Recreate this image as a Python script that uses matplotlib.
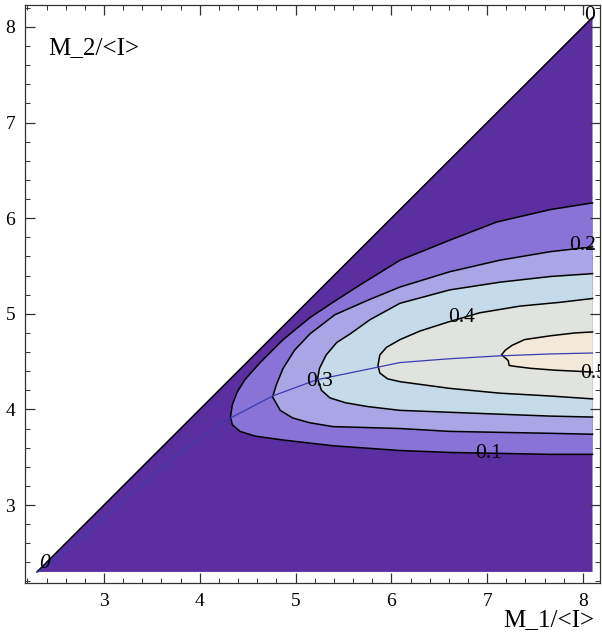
import matplotlib.pyplot as plt
from matplotlib.ticker import MultipleLocator

plt.rcParams['font.family'] = ['Liberation Serif', 'DejaVu Serif']

# region of the plot: M2 < M1, 2.3 .. 8.1
m_lo = 2.3
m_hi = 8.1

# contour lines, (M1, M2), from the upper right edge round the tip to the lower right edge
c01 = [(8.1, 6.16), (7.66, 6.09), (7.10, 5.96), (6.61, 5.77), (6.09, 5.56), (5.67, 5.30),
       (5.39, 5.12), (5.15, 4.96), (4.87, 4.73), (4.63, 4.49), (4.47, 4.31), (4.39, 4.18),
       (4.34, 4.05), (4.32, 3.92), (4.34, 3.84), (4.42, 3.77), (4.58, 3.72), (4.87, 3.68),
       (5.39, 3.62), (6.09, 3.57), (6.61, 3.55), (7.13, 3.54), (7.66, 3.53), (8.1, 3.53)]
c02 = [(8.1, 5.70), (7.66, 5.65), (7.13, 5.56), (6.61, 5.44), (6.09, 5.28), (5.75, 5.14),
       (5.41, 4.99), (5.15, 4.79), (4.99, 4.62), (4.87, 4.43), (4.80, 4.26), (4.76, 4.13),
       (4.84, 3.99), (4.97, 3.91), (5.15, 3.86), (5.39, 3.82), (5.75, 3.81), (6.09, 3.80),
       (6.61, 3.77), (7.13, 3.76), (7.66, 3.75), (8.1, 3.74)]
c03 = [(8.1, 5.42), (7.66, 5.39), (7.13, 5.33), (6.61, 5.25), (6.09, 5.11), (5.78, 4.94),
       (5.57, 4.79), (5.43, 4.70), (5.32, 4.57), (5.25, 4.43), (5.23, 4.32), (5.27, 4.20),
       (5.36, 4.12), (5.52, 4.07), (5.75, 4.03), (6.09, 3.99), (6.61, 3.97), (7.13, 3.95),
       (7.66, 3.93), (8.1, 3.92)]
c04 = [(8.1, 5.16), (7.76, 5.12), (7.34, 5.08), (6.92, 5.01), (6.58, 4.91), (6.30, 4.82),
       (6.09, 4.73), (5.95, 4.65), (5.88, 4.57), (5.86, 4.46), (5.88, 4.38), (5.96, 4.32),
       (6.09, 4.29), (6.61, 4.22), (7.13, 4.17), (7.66, 4.14), (8.1, 4.11)]
c05 = [(8.1, 4.81), (7.92, 4.80), (7.66, 4.77), (7.39, 4.73), (7.26, 4.67), (7.19, 4.62),
       (7.15, 4.57), (7.20, 4.53), (7.22, 4.51), (7.23, 4.46), (7.29, 4.45), (7.45, 4.43),
       (7.71, 4.41), (7.92, 4.40), (8.1, 4.39)]
contours = [c01, c02, c03, c04, c05]
levels = ['0.1', '0.2', '0.3', '0.4', '0.5']

# ridge line (blue)
ridge_m1 = [2.31, 2.65, 3.17, 3.69, 4.00, 4.32, 4.76, 5.22, 5.85, 6.09, 6.61, 7.13, 7.66, 8.1]
ridge_m2 = [2.30, 2.56, 3.02, 3.46, 3.70, 3.91, 4.14, 4.31, 4.44, 4.49, 4.53, 4.56, 4.58, 4.59]

band_colors = ['#5b2f9f', '#8a73d6', '#aaa6e6', '#c6dbe9', '#e1e3de', '#f2e9d9']

fig = plt.figure(figsize=(6.02, 6.39), dpi=100)
ax = fig.add_axes([0.0415, 0.0876, 0.955, 0.9046])

# lowest band: the whole triangle
ax.fill([m_lo, m_hi, m_hi], [m_lo, m_hi, m_lo], color=band_colors[0], lw=0)
# each level fills its inside, closed along the right edge
for i, c in enumerate(contours):
    xs = [p[0] for p in c]
    ys = [p[1] for p in c]
    ax.fill(xs, ys, color=band_colors[i + 1], lw=0)
    ax.plot(xs, ys, color='black', lw=1.1)

# level 0 along the diagonal
ax.plot([m_lo, m_hi], [m_lo, m_hi], color='black', lw=1.1)
ax.plot(ridge_m1, ridge_m2, color='#3b3bb0', lw=0.9)

lab = dict(fontsize=15.5, color='black', clip_on=True)
ax.text(2.38, 2.39, '0', ha='center', va='center', style='italic', **lab)
ax.text(8.07, 8.12, '0', ha='center', va='center', **lab)
ax.text(7.01, 3.54, '0.1', ha='center', va='center', **lab)
ax.text(7.86, 5.71, '0.2', ha='left', va='center', **lab)
ax.text(5.25, 4.29, '0.3', ha='center', va='center', **lab)
ax.text(6.73, 4.96, '0.4', ha='center', va='center', **lab)
ax.text(7.97, 4.38, '0.5', ha='left', va='center', **lab)

ax.set_xlim(2.175, 8.177)
ax.set_ylim(2.184, 8.23)
ax.xaxis.set_major_locator(MultipleLocator(1))
ax.xaxis.set_minor_locator(MultipleLocator(0.2))
ax.yaxis.set_major_locator(MultipleLocator(1))
ax.yaxis.set_minor_locator(MultipleLocator(0.2))
ax.tick_params(which='both', direction='in', top=True, right=True, labelsize=14, color='#333333')
ax.tick_params(which='major', length=7, width=0.9, pad=7)
ax.tick_params(which='minor', length=3.5, width=0.7)
for s in ax.spines.values():
    s.set_color('#333333')
    s.set_linewidth(0.9)

ax.text(0.04, 0.925, 'M_2/<I>', transform=ax.transAxes, fontsize=18, ha='left', va='center')
fig.text(0.912, 0.03, 'M_1/<I>', fontsize=18, ha='center', va='center')

fig.savefig('out.png', dpi=100)
